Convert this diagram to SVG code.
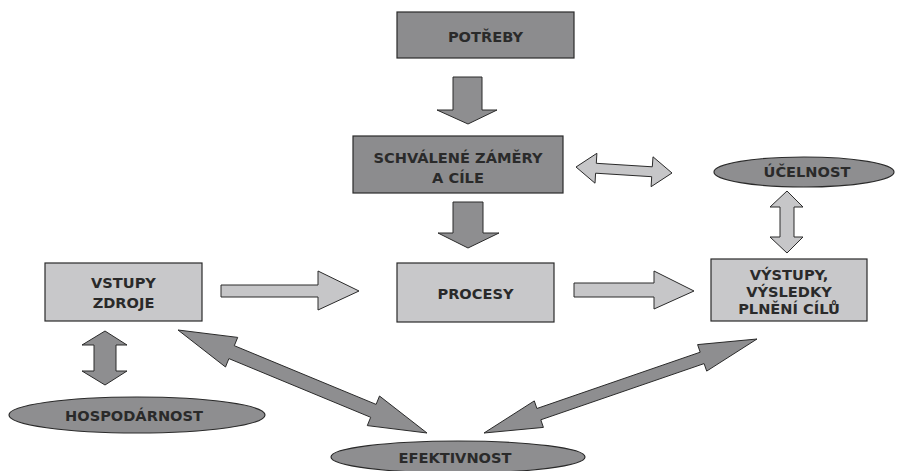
<svg xmlns="http://www.w3.org/2000/svg" width="907" height="471" viewBox="0 0 907 471">
<style>
.dark{fill:#8c8c8e;stroke:#2a2a2a;stroke-width:1.2}
.light{fill:#c8c8ca;stroke:#2a2a2a;stroke-width:1.2}
.ell{fill:#8e8e90;stroke:#2a2a2a;stroke-width:1.2}
.adark{fill:#8e8e90;stroke:#2a2a2a;stroke-width:1;stroke-linejoin:miter}
.alight{fill:#c6c6c8;stroke:#2a2a2a;stroke-width:1;stroke-linejoin:miter}
text{font-family:"DejaVu Sans","Open Sans",sans-serif;font-weight:700;font-size:14.6px;fill:#2a2a2a;text-anchor:middle}
</style>
<rect width="907" height="471" fill="#ffffff"/>
<g id="potreby">
<rect class="dark" x="397" y="12" width="177" height="46"/>
<text x="485.5" y="42">POTŘEBY</text>
</g>
<g id="zamery">
<rect class="dark" x="353" y="136" width="210" height="57"/>
<text x="458" y="163">SCHVÁLENÉ ZÁMĚRY</text>
<text x="458" y="183">A CÍLE</text>
</g>
<g id="ucelnost">
<ellipse class="ell" cx="804" cy="172" rx="90" ry="15"/>
<text x="807" y="177">ÚČELNOST</text>
</g>
<g id="vstupy">
<rect class="light" x="45" y="263" width="157" height="58"/>
<text x="123.5" y="288">VSTUPY</text>
<text x="123.5" y="308">ZDROJE</text>
</g>
<g id="procesy">
<rect class="light" x="397" y="263" width="157" height="59"/>
<text x="475.5" y="299">PROCESY</text>
</g>
<g id="vystupy">
<rect class="light" x="711" y="259" width="156" height="62"/>
<text x="789" y="280">VÝSTUPY,</text>
<text x="789" y="297">VÝSLEDKY</text>
<text x="789" y="314">PLNĚNÍ CÍLŮ</text>
</g>
<g id="hospodarnost">
<ellipse class="ell" cx="137" cy="415" rx="128" ry="18"/>
<text x="134" y="421">HOSPODÁRNOST</text>
</g>
<g id="efektivnost">
<ellipse class="ell" cx="458" cy="457" rx="127" ry="16"/>
<text x="455" y="463">EFEKTIVNOST</text>
</g>
<g id="connectors">
<polygon class="adark" points="453,77 482,77 482,110 497,110 468,124 437,110 453,110"/>
<polygon class="adark" points="453,202 483,202 483,233 499,233 468,248 438,233 453,233"/>
<polygon class="alight" points="576,167 596.9,153.3 596.3,163.3 652.3,166.8 653,156.8 672,173 651.1,186.7 651.7,176.7 595.6,173.2 595,183.2"/>
<polygon class="alight" points="787,191 803,207 794,207 794,237 803,237 787,253 770,237 780,237 780,207 770,207"/>
<polygon class="alight" points="221,285 318,285 318,271 359,291 318,310 318,297 221,297"/>
<polygon class="alight" points="574,283 654,283 654,271 694,291 654,309 654,297 574,297"/>
<polygon class="adark" points="105,331 127,345 116,345 116,371 127,371 105,385 82,371 94,371 94,345 82,345"/>
<polygon class="adark" points="178,330 237.7,337.4 234.3,345.7 376.1,404.4 379.5,396 427,433 367.3,425.6 370.7,417.3 228.9,358.6 225.5,367"/>
<polygon class="adark" points="484,433 534.3,400.9 536.9,408.5 700.2,352.2 697.6,344.6 757,339 706.7,371.1 704.1,363.6 540.8,419.8 543.4,427.4"/>
</g>
</svg>
